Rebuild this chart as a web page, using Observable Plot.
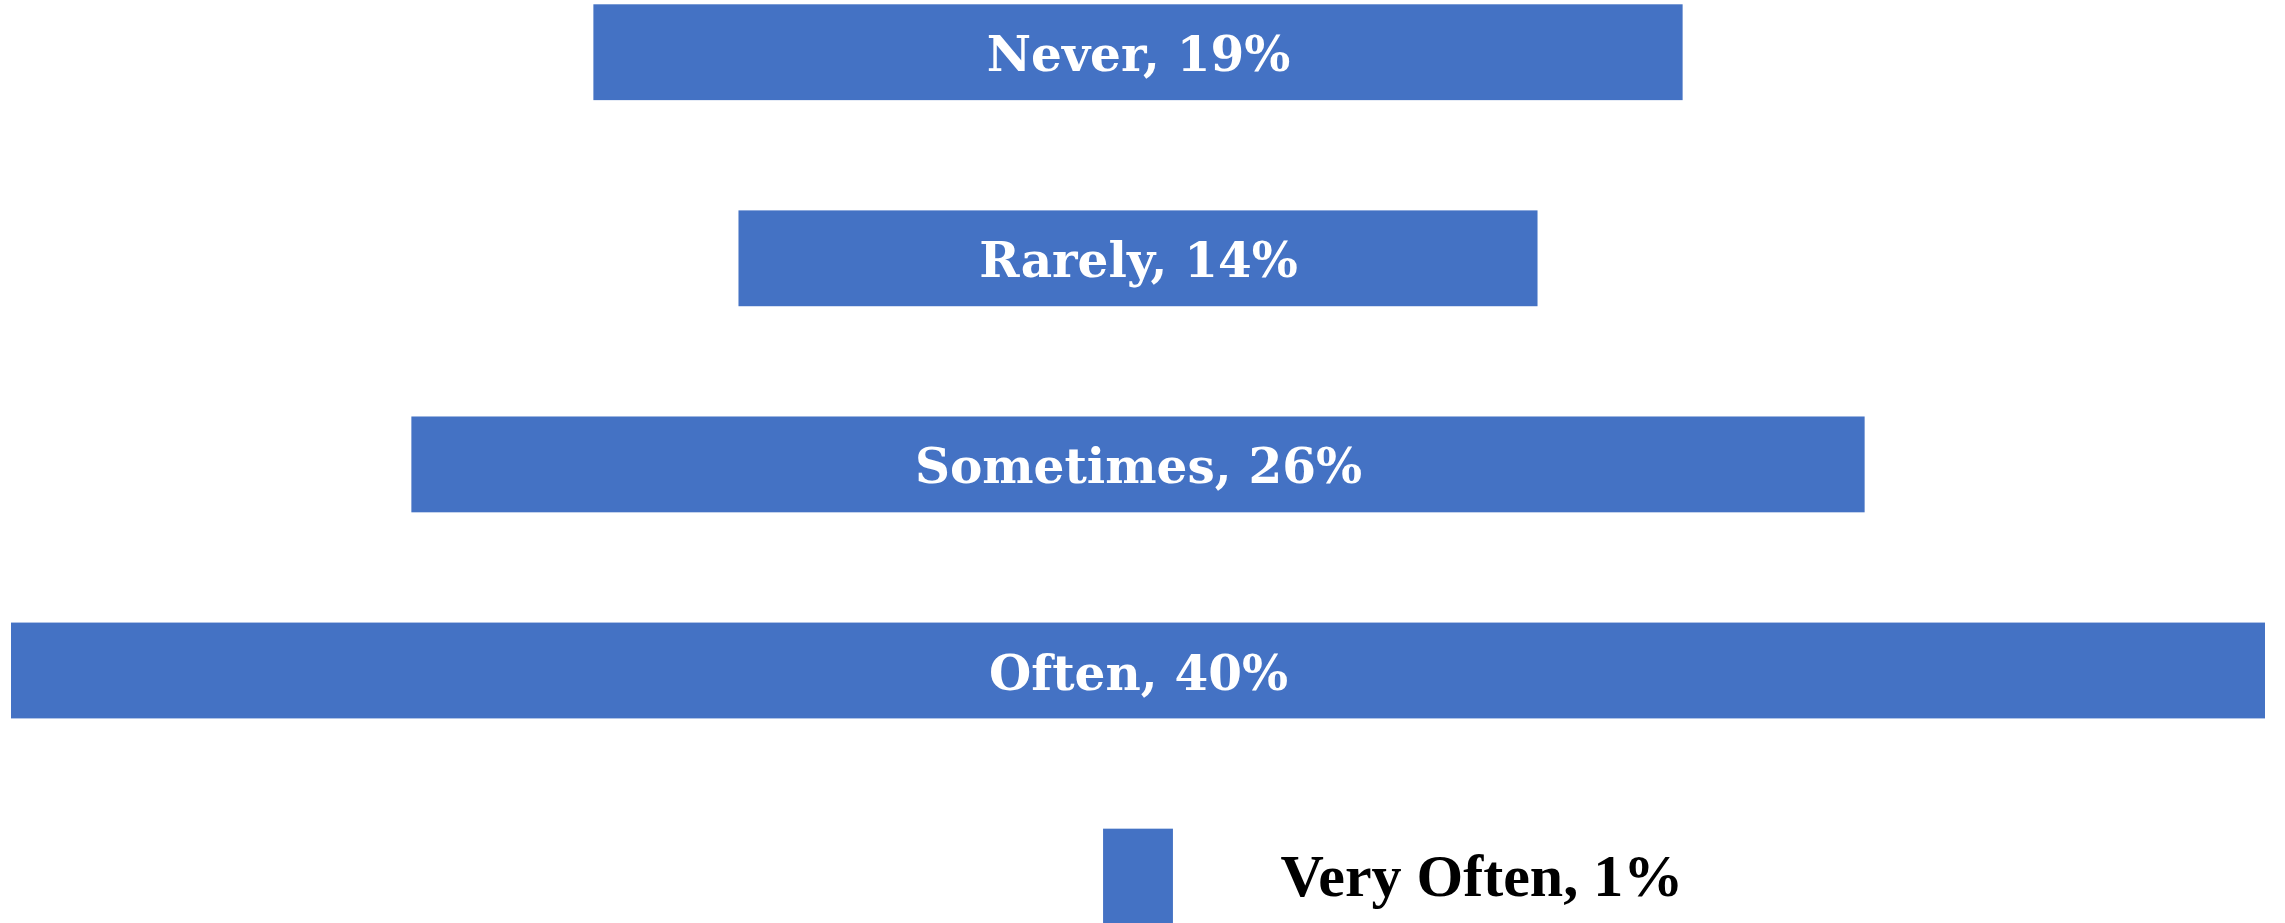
<!DOCTYPE html>
<html>
<head>
<meta charset="utf-8">
<script src="https://cdn.jsdelivr.net/npm/d3@7"></script>
<script src="https://cdn.jsdelivr.net/npm/@observablehq/plot@0.6"></script>
<style>
  html, body { margin: 0; padding: 0; background: #fff; overflow: hidden; }
</style>
</head>
<body>
<div id="chart"></div>
<script>
const categories = ["Never", "Rarely", "Sometimes", "Often", "Very Often"];
const values = [19.33, 14.18, 25.79, 40, 1.24];
const pctLabels = ["19%", "14%", "26%", "40%", "1%"];

const data = categories.map((c, i) => ({
  category: c,
  value: values[i],
  label: `${c}, ${pctLabels[i]}`,
  inside: values[i] >= 5
}));

const chart = Plot.plot({
  width: 2285,
  height: 923,
  marginLeft: 11,
  marginRight: 20,
  marginTop: 0,
  marginBottom: 0,
  style: { background: "white", overflow: "visible" },
  x: { domain: [-20, 20], axis: null },
  y: { domain: categories, range: [4.3, 924.5], paddingInner: 0.535, paddingOuter: 0, round: false, axis: null },
  marks: [
    Plot.barX(data, { y: "category", x1: d => -d.value / 2, x2: d => d.value / 2, fill: "#4472C4" }),
    Plot.text(data.filter(d => d.inside), {
      y: "category", x: 0, dy: 3, text: "label", fill: "white",
      fontFamily: "DejaVu Serif", fontWeight: "bold", fontSize: 48.5
    }),
    Plot.text(data.filter(d => !d.inside), {
      y: "category", x: d => d.value / 2, dx: 107, text: "label", fill: "black", textAnchor: "start",
      fontFamily: "Liberation Serif", fontWeight: "bold", fontSize: 60
    })
  ]
});
document.getElementById("chart").appendChild(chart);
</script>
</body>
</html>
